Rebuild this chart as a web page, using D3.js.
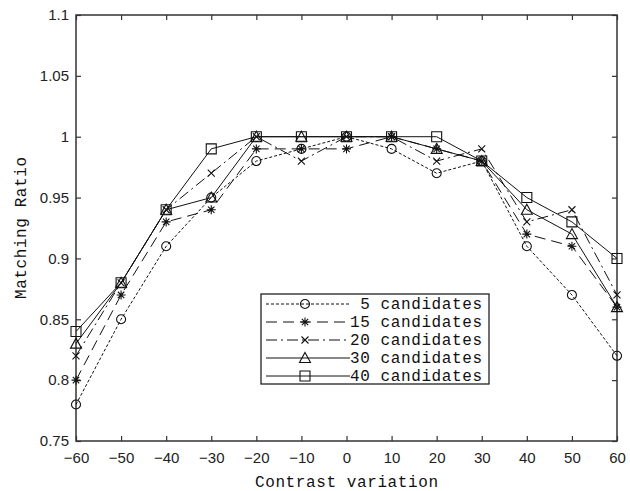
<!DOCTYPE html>
<html>
<head>
<meta charset="utf-8">
<script src="https://cdn.jsdelivr.net/npm/d3@7"></script>
<style>
  body { margin: 0; background: #fff; }
  svg { display: block; }
  text { white-space: pre; }
</style>
</head>
<body>
<div id="graph"></div>
<script>
// contrast variation values (x axis)
var contrast = [-60, -50, -40, -30, -20, -10, 0, 10, 20, 30, 40, 50, 60];

// matching ratio for each number of candidates
var cand5  = [0.78, 0.85, 0.91, 0.95, 0.98, 0.99, 1.00, 0.99, 0.97, 0.98, 0.91, 0.87, 0.82];
var cand15 = [0.80, 0.87, 0.93, 0.94, 0.99, 0.99, 0.99, 1.00, 0.99, 0.98, 0.92, 0.91, 0.86];
var cand20 = [0.82, 0.88, 0.94, 0.97, 1.00, 0.98, 1.00, 1.00, 0.98, 0.99, 0.93, 0.94, 0.87];
var cand30 = [0.83, 0.88, 0.94, 0.95, 1.00, 1.00, 1.00, 1.00, 0.99, 0.98, 0.94, 0.92, 0.86];
var cand40 = [0.84, 0.88, 0.94, 0.99, 1.00, 1.00, 1.00, 1.00, 1.00, 0.98, 0.95, 0.93, 0.90];

var legendLabels = [" 5 candidates", "15 candidates", "20 candidates", "30 candidates", "40 candidates"];

var xTicks = [-60, -50, -40, -30, -20, -10, 0, 10, 20, 30, 40, 50, 60];
var yTicks = [0.75, 0.8, 0.85, 0.9, 0.95, 1, 1.05, 1.1];
var yTickLabels = ["0.75", "0.8", "0.85", "0.9", "0.95", "1", "1.05", "1.1"];

var series = [
  { values: cand5,  dash: "3,2",          marker: "circle" },
  { values: cand15, dash: "11,6",         marker: "asterisk" },
  { values: cand20, dash: "11,4,2,4",     marker: "cross" },
  { values: cand30, dash: null,           marker: "triangle" },
  { values: cand40, dash: null,           marker: "square" }
];

var svgWidth = 630, svgHeight = 491;
var margin = { top: 15, right: 13, bottom: 50, left: 76 };
var width = svgWidth - margin.left - margin.right;
var height = svgHeight - margin.top - margin.bottom;

var svg = d3.select('#graph')
  .append('svg')
    .attr("width", svgWidth)
    .attr("height", svgHeight);

var g = svg.append("g")
    .attr("transform", "translate(" + margin.left + "," + margin.top + ")");

var x = d3.scaleLinear().domain([-60, 60]).range([0, width]);
var y = d3.scaleLinear().domain([0.75, 1.1]).range([height, 0]);

// marker shapes, drawn as paths centred on 0,0
function markerPath(type) {
  switch (type) {
    case "circle": return d3.symbol(d3.symbolCircle, 64)();
    case "square": return "M-5,-5H5V5H-5Z";
    case "triangle": return "M0,-5.5L5.5,4.5H-5.5Z";
    case "asterisk": return "M-4.5,0H4.5M0,-4.5V4.5M-3.2,-3.2L3.2,3.2M-3.2,3.2L3.2,-3.2";
    case "cross": return "M-3.5,-3.5L3.5,3.5M-3.5,3.5L3.5,-3.5";
  }
}

// axes
var axisBottom = d3.axisBottom(x).tickValues(xTicks).tickSize(-5).tickPadding(11).tickFormat(d3.format("d"));
var axisTop = d3.axisTop(x).tickValues(xTicks).tickSize(-5).tickFormat("");
var axisLeft = d3.axisLeft(y).tickValues(yTicks).tickSize(-5).tickPadding(7)
    .tickFormat(function(d, i) { return yTickLabels[i]; });
var axisRight = d3.axisRight(y).tickValues(yTicks).tickSize(-5).tickFormat("");

function styleAxis(sel) {
  sel.selectAll(".domain").remove();
  sel.selectAll("line").attr("stroke", "#333").attr("stroke-width", 1.2);
  sel.selectAll("text")
    .attr("fill", "#222")
    .style("font-family", "'Liberation Sans', Arial, sans-serif")
    .style("font-size", "15px");
}

g.append("g").attr("transform", "translate(0," + height + ")").call(axisBottom).call(styleAxis);
g.append("g").call(axisTop).call(styleAxis);
g.append("g").call(axisLeft).call(styleAxis);
g.append("g").attr("transform", "translate(" + width + ",0)").call(axisRight).call(styleAxis);

g.append("rect")
    .attr("width", width)
    .attr("height", height)
    .attr("fill", "none")
    .attr("stroke", "#333")
    .attr("stroke-width", 1.5);

// lines and markers
var line = d3.line()
    .x(function(d, i) { return x(contrast[i]); })
    .y(function(d) { return y(d); });

series.forEach(function(s) {
  g.append("path")
      .datum(s.values)
      .attr("fill", "none")
      .attr("stroke", "#111")
      .attr("stroke-width", 1)
      .attr("stroke-dasharray", s.dash)
      .attr("d", line);
});

series.forEach(function(s) {
  g.selectAll(null)
      .data(s.values)
      .enter().append("path")
      .attr("transform", function(d, i) { return "translate(" + x(contrast[i]) + "," + y(d) + ")"; })
      .attr("d", markerPath(s.marker))
      .attr("fill", "none")
      .attr("stroke", "#111")
      .attr("stroke-width", 1.1);
});

// legend
var legend = svg.append("g").attr("transform", "translate(261,294)");
legend.append("rect")
    .attr("width", 228)
    .attr("height", 90)
    .attr("fill", "#fff")
    .attr("stroke", "#222")
    .attr("stroke-width", 1.3);

series.forEach(function(s, i) {
  var row = legend.append("g").attr("transform", "translate(0," + (10 + i * 18) + ")");
  row.append("line")
      .attr("x1", 5).attr("x2", 89)
      .attr("stroke", "#111")
      .attr("stroke-width", 1)
      .attr("stroke-dasharray", s.dash);
  row.append("path")
      .attr("transform", "translate(44,0)")
      .attr("d", markerPath(s.marker))
      .attr("fill", "none")
      .attr("stroke", "#111")
      .attr("stroke-width", 1.1);
  row.append("text")
      .attr("x", 89)
      .attr("y", 5)
      .attr("xml:space", "preserve")
      .attr("textLength", 132)
      .attr("lengthAdjust", "spacing")
      .style("font-family", "'Liberation Mono', 'Courier New', monospace")
      .style("font-size", "16px")
      .attr("fill", "#111")
      .text(legendLabels[i]);
});

// axis titles
svg.append("text")
    .attr("x", margin.left + width / 2)
    .attr("y", 487)
    .attr("text-anchor", "middle")
    .attr("textLength", 183)
    .attr("lengthAdjust", "spacing")
    .style("font-family", "'Liberation Mono', 'Courier New', monospace")
    .style("font-size", "16px")
    .attr("fill", "#111")
    .text("Contrast variation");

svg.append("text")
    .attr("transform", "translate(26," + (margin.top + height / 2) + ") rotate(-90)")
    .attr("text-anchor", "middle")
    .attr("textLength", 142)
    .attr("lengthAdjust", "spacing")
    .style("font-family", "'Liberation Mono', 'Courier New', monospace")
    .style("font-size", "16px")
    .attr("fill", "#111")
    .text("Matching Ratio");
</script>
</body>
</html>
